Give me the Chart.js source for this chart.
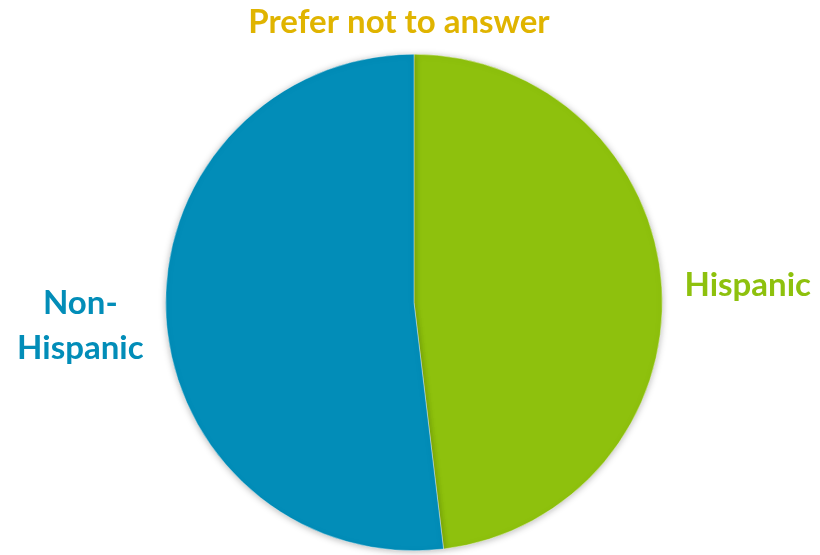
<!DOCTYPE html>
<html>
<head>
<meta charset="utf-8">
<script src="https://cdn.jsdelivr.net/npm/chart.js@4.4.1/dist/chart.umd.min.js"></script>
<style>
  html, body { margin: 0; padding: 0; background: #ffffff; }
  #wrap { width: 820px; height: 555px; position: relative; }
</style>
</head>
<body>
<div id="wrap"><canvas id="chart-etnia"></canvas></div>
<script>
// Datos de la gráfica
const categorias = ['Hispanic', 'Non-Hispanic', 'Prefer not to answer'];
const valores = [48.1, 51.9, 0];
const coloresSector = ['#8EC10D', '#028DB8', '#E0B400'];
const coloresEtiqueta = ['#8EC10D', '#028DB8', '#E0B400'];
const lineasEtiqueta = [['Hispanic'], ['Non-', 'Hispanic'], ['Prefer not to answer']];

// Sombra suave alrededor del pastel
const sombraPlugin = {
    id: 'sombra',
    beforeDatasetsDraw(chart) {
        const ctx = chart.ctx;
        ctx.save();
        ctx.shadowColor = 'rgba(0,0,0,0.28)';
        ctx.shadowBlur = 7;
        ctx.shadowOffsetY = 1;
    },
    afterDatasetsDraw(chart) {
        chart.ctx.restore();
    }
};

// Etiquetas de categoría fuera del pastel
const etiquetasPlugin = {
    id: 'etiquetas',
    afterDraw(chart) {
        const ctx = chart.ctx;
        const meta = chart.getDatasetMeta(0);
        ctx.save();
        ctx.font = 'bold 33px Lato, "Open Sans", sans-serif';
        ctx.textAlign = 'center';
        ctx.textBaseline = 'middle';
        meta.data.forEach((arc, i) => {
            const p = arc.getProps(['x', 'y', 'startAngle', 'endAngle', 'outerRadius'], true);
            let ang = (p.startAngle + p.endAngle) / 2;
            let dist = p.outerRadius + 86;
            let x = p.x + Math.cos(ang) * dist;
            let y = p.y + Math.sin(ang) * dist + 3;
            if (i === 2) {
                // la etiqueta del sector vacío va arriba del pastel
                x = p.x - 15;
                y = p.y - p.outerRadius - 32;
            }
            const lineas = lineasEtiqueta[i];
            const alto = 45;
            ctx.fillStyle = coloresEtiqueta[i];
            lineas.forEach((t, k) => {
                ctx.fillText(t, x, y + (k - (lineas.length - 1) / 2) * alto);
            });
        });
        ctx.restore();
    }
};

const ctx = document.getElementById('chart-etnia').getContext('2d');
const chart = new Chart(ctx, {
    type: 'pie',
    data: {
        labels: categorias,
        datasets: [{
            data: valores,
            backgroundColor: coloresSector,
            borderColor: '#ffffff',
            borderWidth: 0.4
        }]
    },
    options: {
        responsive: true,
        maintainAspectRatio: false,
        animation: false,
        layout: {
            padding: { top: 54, bottom: 4, left: 8, right: 0 }
        },
        plugins: {
            legend: { display: false },
            tooltip: { enabled: false }
        }
    },
    plugins: [sombraPlugin, etiquetasPlugin]
});
</script>
</body>
</html>
